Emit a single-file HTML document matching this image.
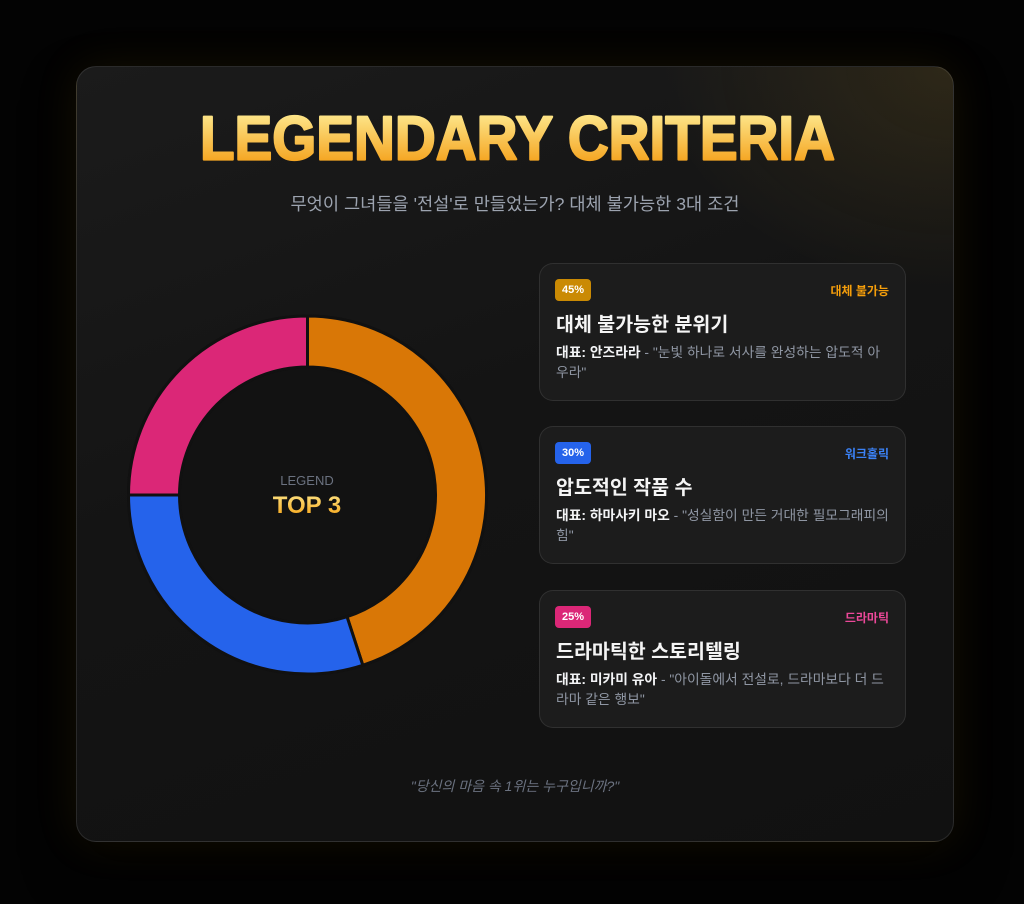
<!DOCTYPE html>
<html lang="ko">
<head>
<meta charset="utf-8">
<style>
  html, body { margin:0; padding:0; }
  body {
    width:1024px; height:904px; overflow:hidden; position:relative;
    background:#030303;
    font-family:"Liberation Sans","Noto Sans CJK KR",sans-serif;
  }
  .panel {
    position:absolute; left:76px; top:66px; width:876px; height:774px;
    border-radius:20px;
    border:1px solid rgba(255,255,255,0.10);
    background:
      radial-gradient(ellipse 420px 320px at 100% 0%, rgba(251,191,36,0.10), rgba(251,191,36,0) 70%),
      linear-gradient(160deg, #1b1b1b 0%, #141414 45%, #111111 100%);
    box-shadow: 0 0 45px rgba(200,150,20,0.10), 0 25px 50px rgba(0,0,0,0.6);
  }
  .abs { position:absolute; }
  .subtitle {
    left:0; width:1030px; top:192px; line-height:24px; text-align:center;
    font-size:17.6px; color:#9ca3af; white-space:nowrap;
  }
  .legend-lbl {
    left:207px; width:200px; top:472px; line-height:18px; text-align:center;
    font-size:13px; color:#6b7280; letter-spacing:0;
  }
  .top3 {
    left:207px; width:200px; top:492px; line-height:28px; text-align:center;
    font-size:24px; font-weight:bold;
    background:linear-gradient(#fde68a,#f59e0b);
    -webkit-background-clip:text; background-clip:text; color:transparent;
  }
  .card {
    position:absolute; left:539px; width:365px; height:136px;
    border-radius:14px;
    border:1px solid rgba(255,255,255,0.09);
    background:#1c1c1c;
  }
  .badge {
    position:absolute; left:15px; top:15px; width:36px; height:22px; border-radius:4px;
    color:#fff; font-size:11px; font-weight:bold; line-height:22px; text-align:center;
  }
  .tag {
    position:absolute; right:16px; top:16px; line-height:22px; font-size:12px; font-weight:bold;
    white-space:nowrap;
  }
  .ctitle {
    position:absolute; left:16px; top:49px; line-height:24px; font-size:19.5px; font-weight:bold;
    color:#f5f5f5; white-space:nowrap;
  }
  .desc {
    position:absolute; left:16px; top:79px; line-height:20px; font-size:13.8px; color:#8f96a3;
    white-space:nowrap;
  }
  .desc b { color:#f3f4f6; }
  .footer {
    left:0; width:1030px; top:776px; line-height:20px; text-align:center;
    font-size:14px; font-style:italic; color:#6b7280; white-space:nowrap;
  }
</style>
</head>
<body>
  <div class="panel"></div>

  <svg class="abs" style="left:0;top:0" width="1024" height="904" viewBox="0 0 1024 904">
    <defs>
      <linearGradient id="tgs" gradientUnits="userSpaceOnUse" x1="0" y1="114" x2="0" y2="161">
        <stop offset="0" stop-color="#fde68a"/>
        <stop offset="1" stop-color="#f5a623"/>
      </linearGradient>
    </defs>
    <text x="200" y="159.5" font-family="Liberation Sans, sans-serif" font-weight="bold" font-size="62"
          fill="url(#tgs)" stroke="url(#tgs)" stroke-width="2.2" stroke-linejoin="round"
          textLength="635" lengthAdjust="spacingAndGlyphs">LEGENDARY CRITERIA</text>

    <!-- donut -->
    <circle cx="307.5" cy="495" r="180.5" fill="#111111"/>
    <g stroke="#111111" stroke-width="3" stroke-linejoin="miter">
      <path d="M 307.5 316 A 179 179 0 0 1 362.81 665.25 L 347.05 616.74 A 128 128 0 0 0 307.5 367 Z" fill="#d97706"/>
      <path d="M 362.81 665.25 A 179 179 0 0 1 128.5 495 L 179.5 495 A 128 128 0 0 0 347.05 616.74 Z" fill="#2563eb"/>
      <path d="M 128.5 495 A 179 179 0 0 1 307.5 316 L 307.5 367 A 128 128 0 0 0 179.5 495 Z" fill="#db2777"/>
    </g>
    <circle cx="307.5" cy="495" r="126.5" fill="#121212"/>
  </svg>

  <div class="abs subtitle">무엇이 그녀들을 '전설'로 만들었는가? 대체 불가능한 3대 조건</div>

  <div class="abs legend-lbl">LEGEND</div>
  <div class="abs top3">TOP 3</div>

  <div class="card" style="top:263px;">
    <div class="badge" style="background:#ca8a04;">45%</div>
    <div class="tag" style="color:#f59e0b;">대체 불가능</div>
    <div class="ctitle">대체 불가능한 분위기</div>
    <div class="desc"><b>대표: 안즈라라</b> - "눈빛 하나로 서사를 완성하는 압도적 아<br>우라"</div>
  </div>

  <div class="card" style="top:426px;">
    <div class="badge" style="background:#2563eb;">30%</div>
    <div class="tag" style="color:#3b82f6;">워크홀릭</div>
    <div class="ctitle">압도적인 작품 수</div>
    <div class="desc"><b>대표: 하마사키 마오</b> - "성실함이 만든 거대한 필모그래피의<br>힘"</div>
  </div>

  <div class="card" style="top:590px;">
    <div class="badge" style="background:#db2777;">25%</div>
    <div class="tag" style="color:#ec4899;">드라마틱</div>
    <div class="ctitle">드라마틱한 스토리텔링</div>
    <div class="desc"><b>대표: 미카미 유아</b> - "아이돌에서 전설로, 드라마보다 더 드<br>라마 같은 행보"</div>
  </div>

  <div class="abs footer">"당신의 마음 속 1위는 누구입니까?"</div>
</body>
</html>
